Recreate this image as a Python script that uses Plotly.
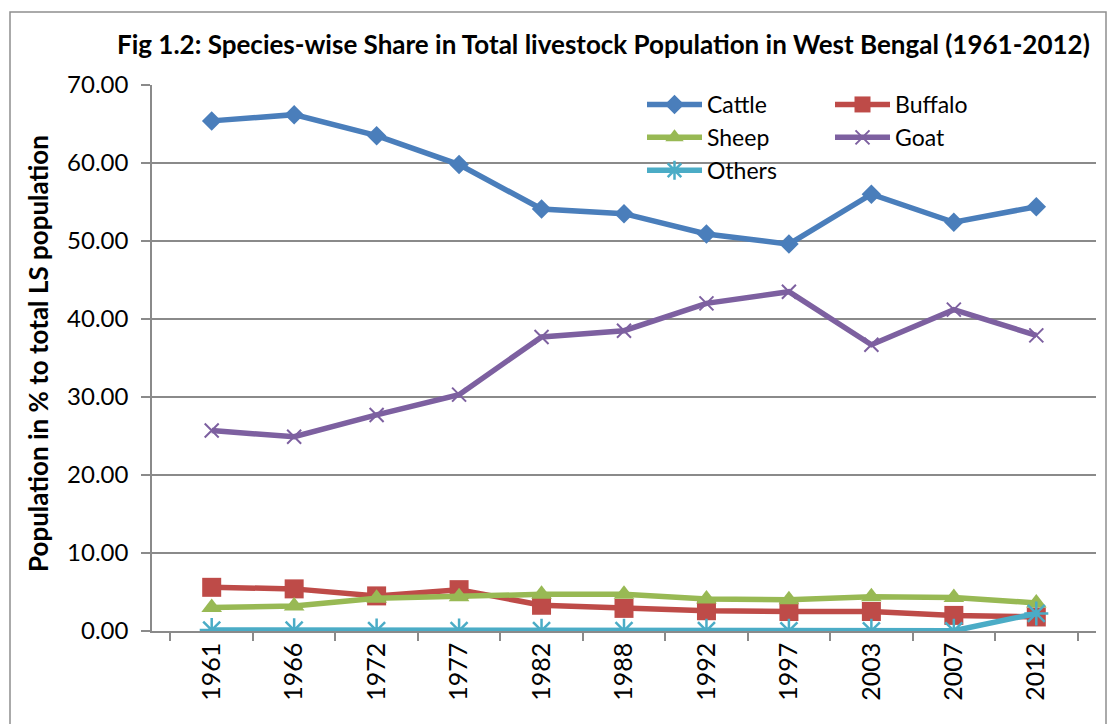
import plotly.graph_objects as go

years = ["1961", "1966", "1972", "1977", "1982", "1988", "1992", "1997", "2003", "2007", "2012"]
cattle = [65.4, 66.2, 63.5, 59.8, 54.1, 53.5, 50.9, 49.6, 56.0, 52.4, 54.4]
buffalo = [5.6, 5.4, 4.5, 5.3, 3.3, 2.9, 2.6, 2.5, 2.5, 2.0, 1.8]
sheep = [3.0, 3.2, 4.2, 4.4, 4.7, 4.7, 4.1, 4.0, 4.4, 4.3, 3.6]
goat = [25.7, 24.9, 27.7, 30.3, 37.7, 38.5, 42.0, 43.5, 36.7, 41.2, 37.9]
others = [0.12, 0.10, 0.05, 0.05, 0.04, 0.04, 0.04, 0.03, 0.03, 0.03, 2.25]
y_ticks = [0, 10, 20, 30, 40, 50, 60, 70]

W, H = 1111, 724
L, R, T, B = 152, 15, 85, 93
PW, PH = W - L - R, H - T - B

FONT = "Lato"
GRID = "#8a8a8a"

def px_x(v):
    return (v - L) / PW

def px_y(v):
    return (H - B - v) / PH

series = [
    ("Cattle", cattle, "#4A7EBB", "diamond", 15, None, "legend"),
    ("Buffalo", buffalo, "#BE4B48", "square", 19, None, "legend2"),
    ("Sheep", sheep, "#98B954", "triangle-up", 18, None, "legend"),
    ("Goat", goat, "#7D60A0", "x-thin", 14, 2, "legend2"),
    ("Others", others, "#4BACC6", "asterisk", 20, 2.5, "legend"),
]

fig = go.Figure()
for name, vals, color, sym, size, lw, lg in series:
    marker = dict(symbol=sym, size=size, color=color)
    if lw:
        marker["line"] = dict(color=color, width=lw)
    else:
        marker["line"] = dict(width=0)
    fig.add_trace(go.Scatter(
        x=years, y=vals, name=name, mode="lines+markers",
        line=dict(color=color, width=5.5),
        marker=marker, legend=lg,
    ))

legend_common = dict(
    bgcolor="rgba(0,0,0,0)", borderwidth=0,
    font=dict(family=FONT, size=23, color="#000000"),
    itemwidth=55, tracegroupgap=0,
    xanchor="left", yanchor="top",
)

fig.update_layout(
    width=W, height=H,
    margin=dict(l=L, r=R, t=T, b=B),
    paper_bgcolor="white", plot_bgcolor="white",
    font=dict(family=FONT, size=24, color="#000000"),
    title=dict(
        text="<b>Fig 1.2: Species-wise Share in Total livestock Population in West Bengal (1961-2012)</b>",
        font=dict(family=FONT, size=26, color="#000000"),
        xref="container", yref="container",
        x=117 / W, xanchor="left", y=1 - 45 / H, yanchor="middle",
    ),
    legend=dict(x=px_x(642), y=px_y(83), **legend_common),
    legend2=dict(x=px_x(830), y=px_y(83), **legend_common),
    xaxis=dict(
        type="category", tickangle=-90,
        showline=True, linecolor=GRID, linewidth=1.5,
        ticks="outside", tickson="boundaries", ticklen=8, tickcolor=GRID, tickwidth=1.5,
        showgrid=False,
        tickfont=dict(family=FONT, size=25, color="#000000"),
    ),
    yaxis=dict(
        range=[0, 70], tickvals=y_ticks, tickformat=".2f",
        showline=True, linecolor=GRID, linewidth=1.5,
        ticks="outside", ticklen=9, tickcolor=GRID, tickwidth=1.5,
        showgrid=True, gridcolor=GRID, gridwidth=1.5,
        zeroline=False, ticklabelstandoff=8,
        tickfont=dict(family=FONT, size=24, color="#000000"),
    ),
    shapes=[dict(
        type="rect", xref="paper", yref="paper",
        x0=px_x(10), x1=px_x(1106), y0=px_y(740), y1=px_y(12),
        line=dict(color="#8f8f8f", width=1.5), fillcolor="rgba(0,0,0,0)",
        layer="below",
    )],
    annotations=[dict(
        text="<b>Population in % to total LS population</b>",
        textangle=-90, xref="paper", yref="paper",
        x=px_x(38), y=px_y(354), xanchor="center", yanchor="middle",
        showarrow=False, font=dict(family=FONT, size=26, color="#000000"),
    )],
)

fig.write_html("out.html")
